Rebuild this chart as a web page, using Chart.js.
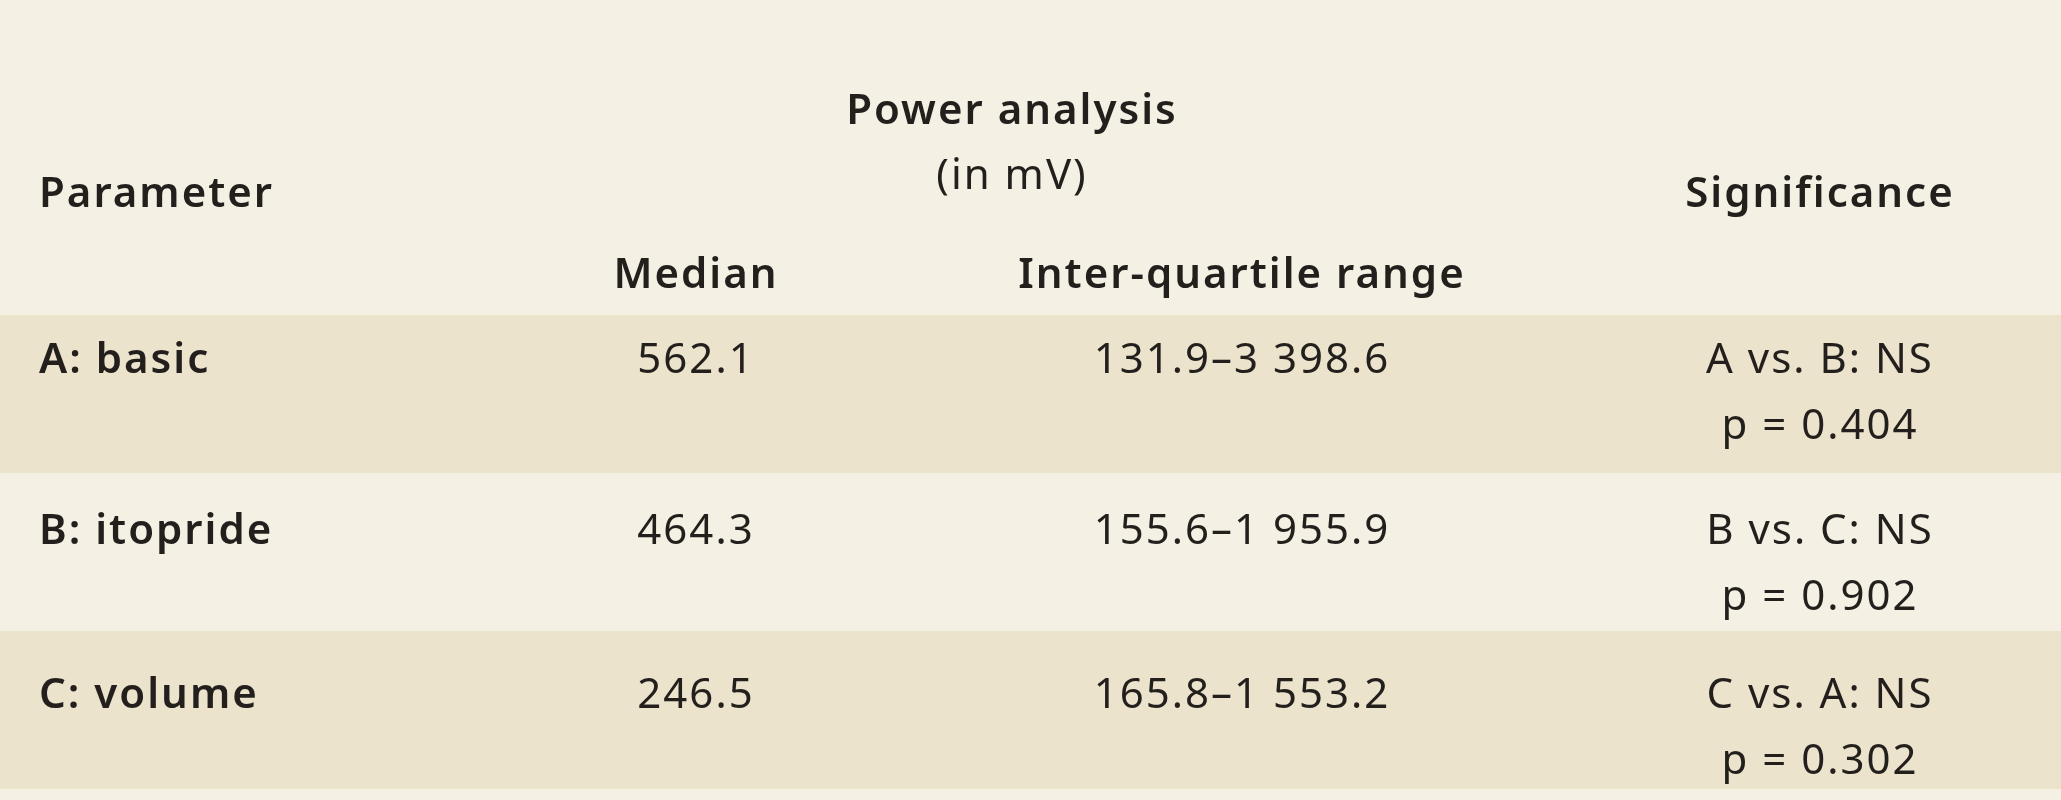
<!DOCTYPE html>
<html>
<head>
<meta charset="utf-8">
<script src="https://cdn.jsdelivr.net/npm/chart.js@4"></script>
<style>
  html, body { margin: 0; padding: 0; background: #f4f0e4; }
  #wrap { width: 2061px; height: 800px; }
</style>
</head>
<body>
<div id="wrap"><canvas id="tableChart"></canvas></div>
<script>
// table content
const categories = ['A: basic', 'B: itopride', 'C: volume'];
const medians = ['562.1', '464.3', '246.5'];
const iqrRanges = ['131.9–3 398.6', '155.6–1 955.9', '165.8–1 553.2'];
const comparisons = ['A vs. B: NS', 'B vs. C: NS', 'C vs. A: NS'];
const pValues = ['p = 0.404', 'p = 0.902', 'p = 0.302'];
const headers = ['Parameter', 'Power analysis', '(in mV)', 'Median', 'Inter-quartile range', 'Significance'];

const FONT = '"Noto Sans", sans-serif';
const TEXT = '#231f1c';
const LIGHT = '#f4f0e4';
const DARK = '#ece3cc';

// row bands (top) in layout units
const rowTop = [315, 473, 631];
const rowH = 158;

const tablePlugin = {
    id: 'tablePlugin',
    beforeDatasetsDraw(chart) {
        const { ctx, scales: { x, y } } = chart;
        ctx.save();
        ctx.fillStyle = LIGHT;
        ctx.fillRect(x.getPixelForValue(0), y.getPixelForValue(0), x.getPixelForValue(2061) - x.getPixelForValue(0), y.getPixelForValue(800) - y.getPixelForValue(0));
        categories.forEach((c, i) => {
            ctx.fillStyle = i % 2 === 0 ? DARK : LIGHT;
            const t = y.getPixelForValue(rowTop[i]);
            const b = y.getPixelForValue(rowTop[i] + rowH);
            ctx.fillRect(x.getPixelForValue(0), t, x.getPixelForValue(2061) - x.getPixelForValue(0), b - t);
        });
        ctx.restore();
    },
    afterDatasetsDraw(chart) {
        const { ctx, scales: { x, y } } = chart;
        const put = (txt, px, py, align, bold) => {
            ctx.font = (bold ? '600 ' : '400 ') + '42px ' + FONT;
            ctx.letterSpacing = '2px';
            ctx.textAlign = align;
            ctx.textBaseline = 'middle';
            ctx.fillStyle = TEXT;
            ctx.fillText(txt, x.getPixelForValue(px), y.getPixelForValue(py));
        };
        ctx.save();
        put(headers[0], 39, 195, 'left', true);
        put(headers[1], 1012, 112, 'center', true);
        put(headers[2], 1012, 177, 'center', false);
        put(headers[3], 696, 276, 'center', true);
        put(headers[4], 1242, 276, 'center', true);
        put(headers[5], 1820, 195, 'center', true);
        const lineY = [[361, 427], [532, 598], [696, 762]];
        categories.forEach((c, i) => {
            put(c, 39, lineY[i][0], 'left', true);
            put(medians[i], 696, lineY[i][0], 'center', false);
            put(iqrRanges[i], 1242, lineY[i][0], 'center', false);
            put(comparisons[i], 1820, lineY[i][0], 'center', false);
            put(pValues[i], 1820, lineY[i][1], 'center', false);
        });
        ctx.restore();
    }
};

new Chart(document.getElementById('tableChart'), {
    type: 'scatter',
    data: { datasets: [{ data: [], pointRadius: 0 }] },
    options: {
        responsive: true,
        maintainAspectRatio: false,
        animation: false,
        layout: { padding: 0 },
        plugins: { legend: { display: false }, tooltip: { enabled: false } },
        scales: {
            x: { type: 'linear', min: 0, max: 2061, display: false },
            y: { type: 'linear', min: 0, max: 800, reverse: true, display: false }
        }
    },
    plugins: [tablePlugin]
});
</script>
</body>
</html>
